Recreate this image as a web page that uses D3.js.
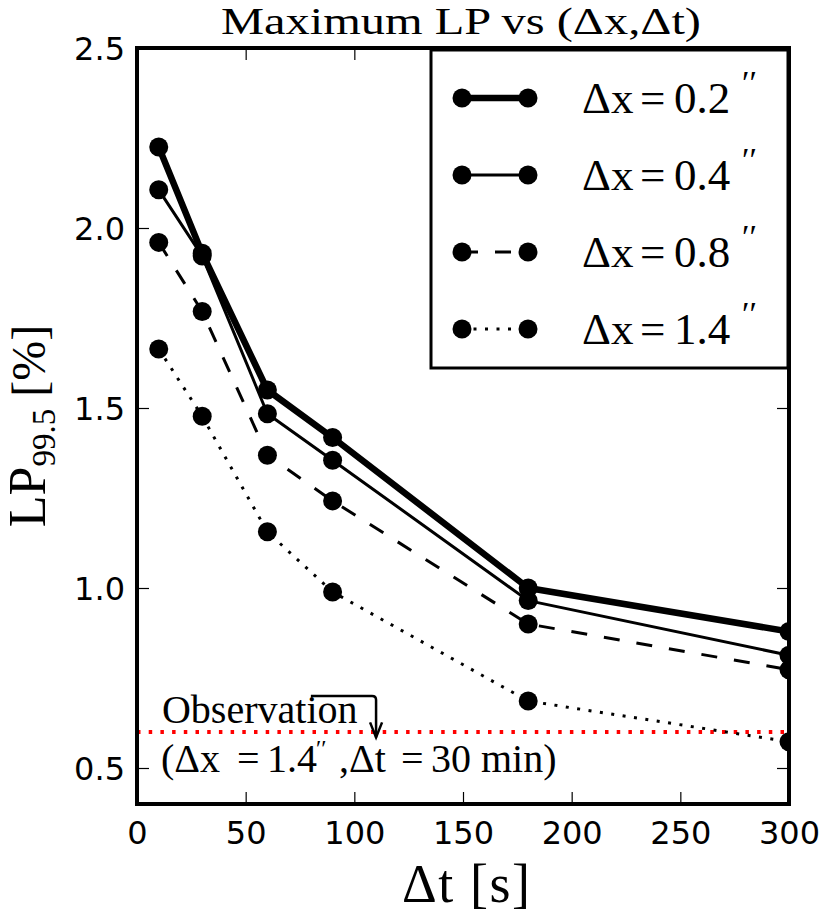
<!DOCTYPE html>
<html>
<head>
<meta charset="utf-8">
<script src="https://cdn.jsdelivr.net/npm/d3@7"></script>
<style>
  body { margin: 0; background: #fff; }
  svg { display: block; }
</style>
</head>
<body>
<div class="chart"></div>
<script>
// values
const dtValues = [10, 30, 60, 90, 180, 300];
const lp02 = [2.225, 1.930, 1.550, 1.418, 1.000, 0.879];
const lp04 = [2.106, 1.922, 1.484, 1.355, 0.965, 0.813];
const lp08 = [1.960, 1.768, 1.369, 1.242, 0.900, 0.773];
const lp14 = [1.664, 1.477, 1.156, 0.989, 0.686, 0.573];
const dxLabels = ['0.2', '0.4', '0.8', '1.4'];
const xTicks = [0, 50, 100, 150, 200, 250, 300];
const yTicks = [0.5, 1.0, 1.5, 2.0, 2.5];
const obsValue = 0.6;
// annotation arrow, in data units: start, corner, tip
const obsArrow = [[80, 0.70], [110, 0.70], [110, 0.585]];

const width = 820, height = 918;
const plot = {left: 137, right: 789, top: 48, bottom: 804};
const serif = "'Liberation Serif', 'DejaVu Serif', serif";
const sans = "'DejaVu Sans', sans-serif";

const lineStyles = [
  {width: 6.5, dash: null},
  {width: 3, dash: null},
  {width: 3, dash: '16,17'},
  {width: 3, dash: '3,8.5'}
];

const series = [lp02, lp04, lp08, lp14].map((values, i) => ({
  label: dxLabels[i],
  values: values,
  style: lineStyles[i]
}));

const svg = d3.select('.chart')
  .append('svg')
    .attr('width', width)
    .attr('height', height);

const x = d3.scaleLinear().domain([0, 300]).range([plot.left, plot.right]);
const y = d3.scaleLinear().domain([0.4, 2.5]).range([plot.bottom, plot.top]);

svg.append('defs').append('clipPath')
    .attr('id', 'plot-clip')
  .append('rect')
    .attr('x', plot.left)
    .attr('y', plot.top)
    .attr('width', plot.right - plot.left)
    .attr('height', plot.bottom - plot.top);

const marks = svg.append('g').attr('clip-path', 'url(#plot-clip)');

// observation level
marks.append('line')
  .attr('x1', x(0))
  .attr('x2', x(300))
  .attr('y1', y(obsValue))
  .attr('y2', y(obsValue))
  .attr('stroke', '#ff0000')
  .attr('stroke-width', 4)
  .attr('stroke-dasharray', '3.5,8.2');

const line = d3.line()
  .x((d, i) => x(dtValues[i]))
  .y(d => y(d));

series.forEach(s => {
  marks.append('path')
    .attr('d', line(s.values))
    .attr('fill', 'none')
    .attr('stroke', 'black')
    .attr('stroke-width', s.style.width)
    .attr('stroke-dasharray', s.style.dash)
    .attr('stroke-linejoin', 'round');

  marks.selectAll(null)
    .data(s.values)
    .enter()
    .append('circle')
      .attr('cx', (d, i) => x(dtValues[i]))
      .attr('cy', d => y(d))
      .attr('r', 9.5)
      .attr('fill', 'black');
});

// axes, matplotlib classic: ticks inside, on all four sides
function styleAxis(g) {
  g.select('.domain').remove();
  g.selectAll('.tick line').attr('stroke', 'black').attr('stroke-width', 1.2);
  g.selectAll('.tick text')
    .attr('font-family', sans)
    .attr('font-size', '32px')
    .attr('fill', 'black');
}

svg.append('g')
    .attr('transform', `translate(0,${plot.bottom})`)
    .call(d3.axisBottom(x).tickValues(xTicks).tickSize(-12).tickPadding(17).tickFormat(d3.format('d')))
    .call(styleAxis);

svg.append('g')
    .attr('transform', `translate(0,${plot.top})`)
    .call(d3.axisTop(x).tickValues(xTicks).tickSize(-12).tickFormat(''))
    .call(styleAxis);

svg.append('g')
    .attr('transform', `translate(${plot.left},0)`)
    .call(d3.axisLeft(y).tickValues(yTicks).tickSize(-12).tickPadding(12).tickFormat(d3.format('.1f')))
    .call(styleAxis)
    .call(g => g.selectAll('.tick text').attr('dy', '0.36em'));

svg.append('g')
    .attr('transform', `translate(${plot.right},0)`)
    .call(d3.axisRight(y).tickValues(yTicks).tickSize(-12).tickFormat(''))
    .call(styleAxis);

svg.append('rect')
  .attr('x', plot.left)
  .attr('y', plot.top)
  .attr('width', plot.right - plot.left)
  .attr('height', plot.bottom - plot.top)
  .attr('fill', 'none')
  .attr('stroke', 'black')
  .attr('stroke-width', 4);

// annotation
const arrowPts = obsArrow.map(p => [x(p[0]), y(p[1])]);
svg.append('path')
  .attr('d', `M${arrowPts[0][0]},${arrowPts[0][1]}H${arrowPts[1][0] - 4}Q${arrowPts[1][0]},${arrowPts[1][1]} ${arrowPts[1][0]},${arrowPts[1][1] + 4}V${arrowPts[2][1]}`)
  .attr('fill', 'none')
  .attr('stroke', 'black')
  .attr('stroke-width', 2.5);

svg.append('path')
  .attr('d', `M${arrowPts[2][0] - 6},${arrowPts[2][1] - 15}L${arrowPts[2][0]},${arrowPts[2][1]}L${arrowPts[2][0] + 6},${arrowPts[2][1] - 15}`)
  .attr('fill', 'none')
  .attr('stroke', 'black')
  .attr('stroke-width', 2.5);

svg.append('text')
  .attr('x', x(11.5))
  .attr('y', y(0.625))
  .attr('font-family', serif)
  .attr('font-size', '40px')
  .text('Observation');

const obsLine = svg.append('text')
  .attr('y', y(0.49))
  .attr('font-family', serif)
  .attr('font-size', '40px');
const ox = x(11);
obsLine.append('tspan').attr('x', ox).text('(Δx');
obsLine.append('tspan').attr('x', ox + 76).text('=');
obsLine.append('tspan').attr('x', ox + 106).text('1.4');
obsLine.append('tspan').attr('x', ox + 155).attr('dy', -16).attr('font-size', '24px').text('′′');
obsLine.append('tspan').attr('x', ox + 178).attr('dy', 16).text(',Δt');
obsLine.append('tspan').attr('x', ox + 240).text('=');
obsLine.append('tspan').attr('x', ox + 270).text('30 min)');

// title and axis labels
svg.append('text')
  .attr('x', 461)
  .attr('y', 34)
  .attr('text-anchor', 'middle')
  .attr('font-family', serif)
  .attr('font-size', '38px')
  .attr('textLength', 480)
  .attr('lengthAdjust', 'spacingAndGlyphs')
  .text('Maximum LP vs (Δx,Δt)');

svg.append('text')
  .attr('x', (plot.left + plot.right) / 2 + 3)
  .attr('y', 902)
  .attr('text-anchor', 'middle')
  .attr('font-family', serif)
  .attr('font-size', '54px')
  .attr('textLength', 128)
  .attr('lengthAdjust', 'spacing')
  .text('Δt [s]');

const ylab = svg.append('text')
  .attr('transform', `translate(45,${(plot.top + plot.bottom) / 2}) rotate(-90)`)
  .attr('text-anchor', 'middle')
  .attr('font-family', serif)
  .attr('font-size', '52px');
ylab.append('tspan').text('LP');
ylab.append('tspan').attr('font-size', '33px').attr('dy', 10).text('99.5');
ylab.append('tspan').attr('font-size', '48px').attr('dy', -10).text(' [%]');

// legend
const legend = {left: 431, top: 50, width: 357, height: 318, rowGap: 77, firstRow: 48};
const lg = svg.append('g');
lg.append('rect')
  .attr('x', legend.left)
  .attr('y', legend.top)
  .attr('width', legend.width)
  .attr('height', legend.height)
  .attr('fill', 'white')
  .attr('stroke', 'black')
  .attr('stroke-width', 3);

series.forEach((s, i) => {
  const ry = legend.top + legend.firstRow + i * legend.rowGap;
  const x0 = legend.left + 31, x1 = legend.left + 97;
  lg.append('line')
    .attr('x1', x0).attr('x2', x1)
    .attr('y1', ry).attr('y2', ry)
    .attr('stroke', 'black')
    .attr('stroke-width', s.style.width)
    .attr('stroke-dasharray', s.style.dash);
  lg.selectAll(null)
    .data([x0, x1])
    .enter()
    .append('circle')
      .attr('cx', d => d)
      .attr('cy', ry)
      .attr('r', 9.5)
      .attr('fill', 'black');

  const tx = legend.left + 151;
  const t = lg.append('text')
    .attr('y', ry + 15)
    .attr('font-family', serif)
    .attr('font-size', '45px');
  t.append('tspan').attr('x', tx).text('Δx');
  t.append('tspan').attr('x', tx + 58).text('=');
  t.append('tspan').attr('x', tx + 92).text(s.label);
  t.append('tspan').attr('x', tx + 160).attr('dy', -19).attr('font-size', '34px').text('′′');
});
</script>
</body>
</html>
